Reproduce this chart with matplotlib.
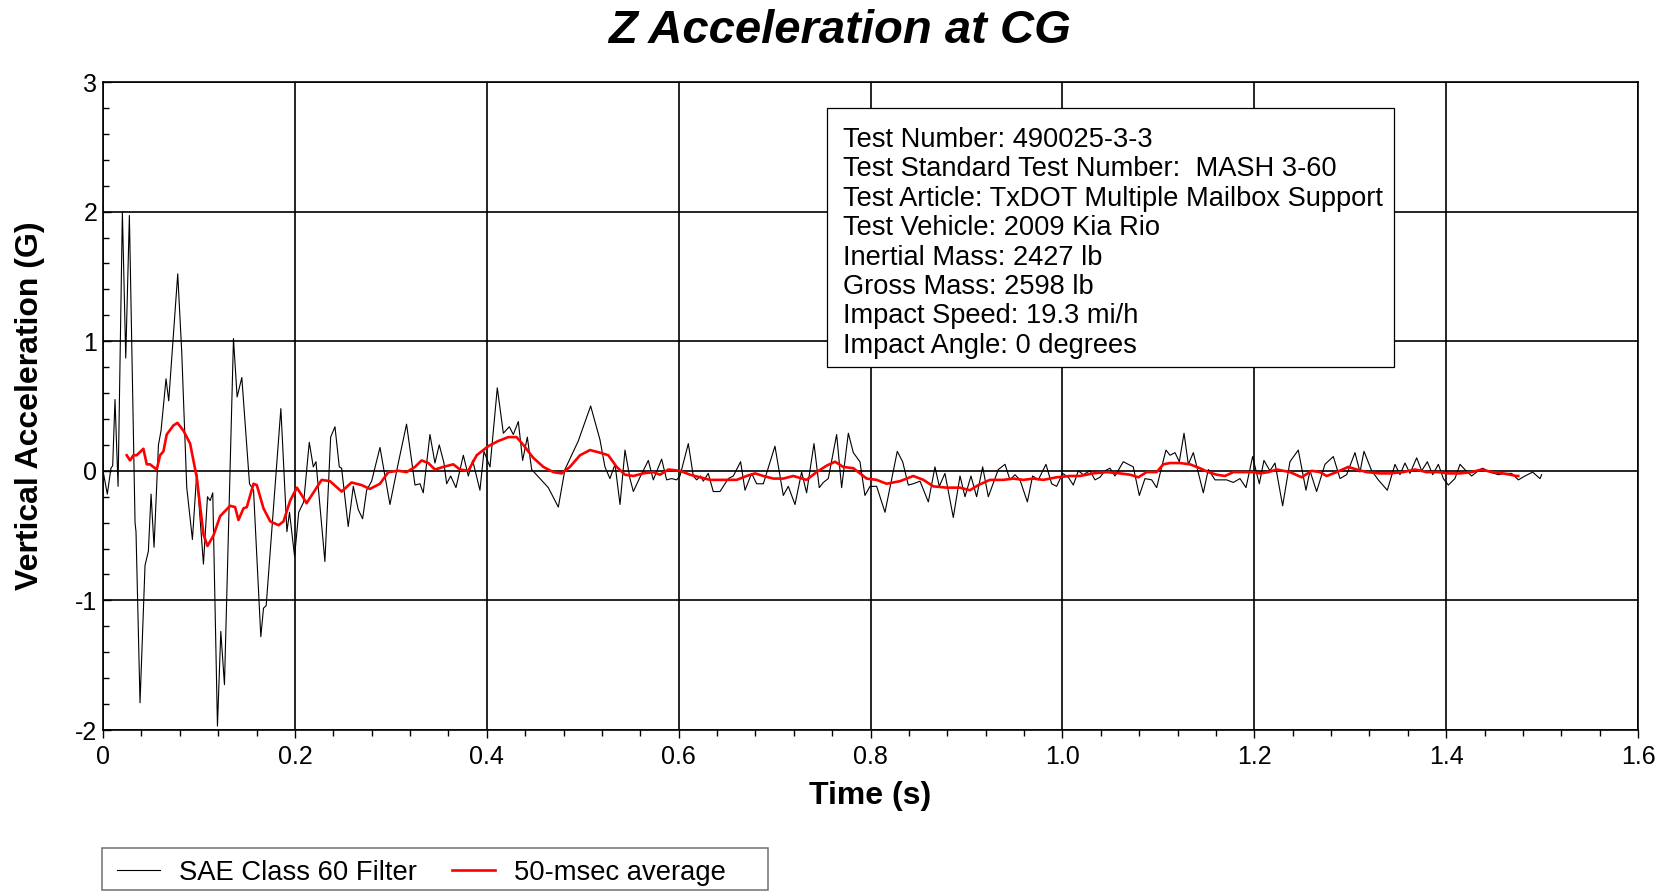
import matplotlib
matplotlib.use("Agg")
import matplotlib.pyplot as plt
from matplotlib.patches import Rectangle
from matplotlib.ticker import MultipleLocator, FuncFormatter

plt.rcParams["font.family"] = ["Liberation Sans", "DejaVu Sans"]
plt.rcParams["axes.unicode_minus"] = False

# ---- SAE Class 60 filtered vertical acceleration (G) vs time (s) ----
raw_time = [
    0.0000, 0.0045, 0.0083, 0.0101, 0.0125, 0.0157, 0.0202, 0.0237, 0.0275, 0.0334,
    0.0344, 0.0386, 0.0438, 0.0473, 0.0501, 0.0532, 0.0578, 0.0605, 0.0657, 0.0685,
    0.0779, 0.0821, 0.0873, 0.0932, 0.0977, 0.1047, 0.1089, 0.1117, 0.1144, 0.1193,
    0.1228, 0.1266, 0.1360, 0.1398, 0.1447, 0.1527, 0.1569, 0.1645, 0.1673, 0.1701,
    0.1854, 0.1917, 0.1944, 0.1997, 0.2040, 0.2092, 0.2150, 0.2192, 0.2220, 0.2313,
    0.2373, 0.2418, 0.2463, 0.2487, 0.2556, 0.2609, 0.2661, 0.2706, 0.2748, 0.2800,
    0.2887, 0.2991, 0.3078, 0.3164, 0.3252, 0.3304, 0.3338, 0.3408, 0.3460, 0.3505,
    0.3554, 0.3582, 0.3624, 0.3679, 0.3756, 0.3808, 0.3853, 0.3929, 0.3971, 0.4034,
    0.4110, 0.4173, 0.4235, 0.4277, 0.4329, 0.4374, 0.4423, 0.4468, 0.4642, 0.4746,
    0.4815, 0.4954, 0.5083, 0.5180, 0.5232, 0.5284, 0.5337, 0.5389, 0.5441, 0.5493,
    0.5528, 0.5597, 0.5684, 0.5736, 0.5823, 0.5875, 0.5927, 0.5979, 0.6014, 0.6101,
    0.6153, 0.6188, 0.6229, 0.6257, 0.6309, 0.6361, 0.6431, 0.6518, 0.6570, 0.6646,
    0.6692, 0.6761, 0.6813, 0.6883, 0.7004, 0.7091, 0.7143, 0.7213, 0.7282, 0.7334,
    0.7411, 0.7466, 0.7508, 0.7560, 0.7647, 0.7699, 0.7769, 0.7821, 0.7890, 0.7942,
    0.7995, 0.8064, 0.8151, 0.8279, 0.8335, 0.8394, 0.8446, 0.8516, 0.8603, 0.8672,
    0.8717, 0.8776, 0.8863, 0.8933, 0.8985, 0.9047, 0.9106, 0.9169, 0.9228, 0.9332,
    0.9402, 0.9454, 0.9506, 0.9558, 0.9635, 0.9690, 0.9749, 0.9829, 0.9888, 0.9940,
    1.0003, 1.0062, 1.0114, 1.0166, 1.0218, 1.0288, 1.0340, 1.0392, 1.0444, 1.0496,
    1.0548, 1.0635, 1.0687, 1.0739, 1.0802, 1.0861, 1.0931, 1.0983, 1.1035, 1.1080,
    1.1122, 1.1174, 1.1219, 1.1268, 1.1313, 1.1365, 1.1469, 1.1521, 1.1591, 1.1712,
    1.1782, 1.1851, 1.1914, 1.1983, 1.2025, 1.2053, 1.2101, 1.2164, 1.2216, 1.2296,
    1.2372, 1.2459, 1.2539, 1.2581, 1.2650, 1.2737, 1.2824, 1.2894, 1.2963, 1.3050,
    1.3102, 1.3144, 1.3224, 1.3293, 1.3387, 1.3467, 1.3519, 1.3571, 1.3623, 1.3693,
    1.3745, 1.3804, 1.3860, 1.3919, 1.3971, 1.4023, 1.4092, 1.4145, 1.4207, 1.4266,
    1.4318, 1.4381, 1.4457, 1.4544, 1.4614, 1.4683, 1.4753, 1.4822, 1.4902, 1.4978,
    1.4996,
]
raw_accel = [
    0.00, -0.18, 0.02, 0.04, 0.55, -0.12, 2.00, 0.87, 1.97, -0.40,
    -0.47, -1.79, -0.73, -0.62, -0.18, -0.59, 0.20, 0.31, 0.71, 0.54,
    1.52, 0.91, -0.13, -0.53, -0.02, -0.72, -0.20, -0.23, -0.17, -1.97,
    -1.24, -1.65, 1.02, 0.57, 0.72, -0.10, -0.15, -1.28, -1.06, -1.04,
    0.48, -0.47, -0.32, -0.66, -0.32, -0.24, 0.22, 0.03, 0.07, -0.70,
    0.26, 0.34, 0.03, 0.02, -0.43, -0.12, -0.30, -0.37, -0.15, -0.08,
    0.18, -0.26, 0.06, 0.36, -0.11, -0.10, -0.17, 0.28, 0.06, 0.20,
    0.06, -0.10, -0.04, -0.13, 0.12, -0.04, 0.08, -0.15, 0.15, 0.03,
    0.64, 0.29, 0.34, 0.28, 0.38, 0.08, 0.26, 0.01, -0.13, -0.28,
    0.01, 0.23, 0.50, 0.24, 0.03, -0.06, 0.05, -0.26, 0.16, -0.06,
    -0.16, -0.05, 0.08, -0.07, 0.09, -0.07, -0.06, -0.07, -0.04, 0.21,
    -0.04, -0.07, -0.04, -0.08, -0.02, -0.16, -0.16, -0.06, -0.04, 0.07,
    -0.15, -0.02, -0.10, -0.10, 0.19, -0.19, -0.12, -0.26, -0.01, -0.17,
    0.21, -0.13, -0.09, -0.06, 0.28, -0.13, 0.29, 0.14, 0.07, -0.19,
    -0.12, -0.12, -0.32, 0.15, 0.07, -0.11, -0.10, -0.08, -0.24, 0.03,
    -0.12, -0.02, -0.36, -0.04, -0.20, -0.04, -0.20, 0.03, -0.20, 0.01,
    0.05, -0.07, -0.03, -0.07, -0.24, -0.04, -0.07, 0.05, -0.10, -0.12,
    -0.02, -0.05, -0.11, 0.00, -0.03, 0.00, -0.07, -0.05, 0.00, 0.02,
    -0.04, 0.07, 0.05, 0.03, -0.19, -0.06, -0.07, -0.13, 0.03, 0.16,
    0.12, 0.14, 0.07, 0.29, 0.05, 0.14, -0.17, 0.01, -0.07, -0.07,
    -0.09, -0.06, -0.13, 0.11, -0.02, -0.10, 0.08, 0.00, 0.06, -0.27,
    0.07, 0.16, -0.15, 0.00, -0.16, 0.05, 0.11, -0.06, -0.03, 0.14,
    -0.01, 0.15, 0.00, -0.07, -0.15, 0.05, -0.03, 0.06, -0.02, 0.10,
    0.00, 0.07, -0.03, 0.05, -0.06, -0.11, -0.06, 0.05, 0.00, -0.04,
    -0.01, 0.02, -0.01, -0.03, -0.02, -0.02, -0.07, -0.04, -0.01, -0.06,
    -0.03,
]

# ---- 50-msec moving average (G) vs time (s) ----
avg_time = [
    0.0247, 0.0282, 0.0317, 0.0351, 0.0421, 0.0456, 0.0490, 0.0560, 0.0595, 0.0630,
    0.0664, 0.0734, 0.0776, 0.0838, 0.0908, 0.0977, 0.1047, 0.1089, 0.1151, 0.1221,
    0.1325, 0.1377, 0.1412, 0.1464, 0.1499, 0.1569, 0.1603, 0.1673, 0.1743, 0.1830,
    0.1882, 0.1951, 0.2021, 0.2090, 0.2122, 0.2192, 0.2279, 0.2366, 0.2487, 0.2591,
    0.2695, 0.2782, 0.2887, 0.2974, 0.3078, 0.3165, 0.3252, 0.3321, 0.3391, 0.3460,
    0.3547, 0.3651, 0.3721, 0.3808, 0.3895, 0.4016, 0.4120, 0.4225, 0.4311, 0.4381,
    0.4485, 0.4590, 0.4694, 0.4781, 0.4867, 0.4972, 0.5076, 0.5180, 0.5267, 0.5354,
    0.5441, 0.5528, 0.5632, 0.5736, 0.5806, 0.5893, 0.6014, 0.6118, 0.6222, 0.6327,
    0.6466, 0.6605, 0.6709, 0.6796, 0.6883, 0.6987, 0.7091, 0.7195, 0.7334, 0.7438,
    0.7543, 0.7630, 0.7716, 0.7821, 0.7908, 0.7960, 0.8064, 0.8168, 0.8307, 0.8446,
    0.8551, 0.8655, 0.8794, 0.8933, 0.9037, 0.9124, 0.9245, 0.9384, 0.9488, 0.9593,
    0.9697, 0.9801, 0.9940, 1.0079, 1.0183, 1.0322, 1.0461, 1.0600, 1.0705, 1.0792,
    1.0878, 1.0983, 1.1052, 1.1122, 1.1226, 1.1330, 1.1434, 1.1521, 1.1608, 1.1695,
    1.1782, 1.1886, 1.1990, 1.2060, 1.2147, 1.2234, 1.2372, 1.2494, 1.2598, 1.2685,
    1.2755, 1.2859, 1.2981, 1.3067, 1.3171, 1.3311, 1.3415, 1.3554, 1.3676, 1.3797,
    1.3919, 1.4023, 1.4145, 1.4266, 1.4370, 1.4475, 1.4596, 1.4735, 1.4752,
]
avg_accel = [
    0.12, 0.08, 0.12, 0.12, 0.17, 0.05, 0.05, 0.01, 0.12, 0.15,
    0.28, 0.35, 0.37, 0.31, 0.21, -0.05, -0.49, -0.58, -0.50, -0.35,
    -0.27, -0.28, -0.38, -0.29, -0.28, -0.10, -0.11, -0.29, -0.39, -0.42,
    -0.39, -0.23, -0.13, -0.21, -0.25, -0.17, -0.07, -0.08, -0.16, -0.09,
    -0.11, -0.14, -0.10, -0.01, 0.00, -0.01, 0.03, 0.08, 0.06, 0.01,
    0.03, 0.05, 0.01, 0.00, 0.12, 0.19, 0.23, 0.26, 0.26, 0.20,
    0.10, 0.03, -0.01, -0.02, 0.03, 0.12, 0.16, 0.14, 0.12, 0.03,
    -0.03, -0.04, -0.02, -0.01, -0.03, 0.01, 0.00, -0.03, -0.05, -0.07,
    -0.07, -0.07, -0.04, -0.02, -0.04, -0.06, -0.06, -0.04, -0.07, -0.01,
    0.04, 0.07, 0.03, 0.02, -0.03, -0.06, -0.07, -0.10, -0.08, -0.04,
    -0.07, -0.12, -0.13, -0.13, -0.15, -0.11, -0.07, -0.07, -0.06, -0.07,
    -0.06, -0.07, -0.05, -0.04, -0.04, -0.02, -0.01, -0.02, -0.03, -0.05,
    -0.01, -0.01, 0.05, 0.06, 0.06, 0.05, 0.02, -0.01, -0.03, -0.04,
    -0.01, -0.01, -0.01, -0.02, -0.01, 0.01, -0.01, -0.05, 0.00, -0.01,
    -0.04, -0.01, 0.03, 0.01, -0.01, -0.02, -0.02, -0.01, 0.01, -0.01,
    -0.01, -0.02, -0.02, -0.01, 0.01, -0.01, -0.02, -0.04, -0.04,
]

series_labels = ["SAE Class 60 Filter", "50-msec average"]
x_ticks = [0.0, 0.2, 0.4, 0.6, 0.8, 1.0, 1.2, 1.4, 1.6]
y_ticks = [-2, -1, 0, 1, 2, 3]
info_lines = [
    "Test Number: 490025-3-3",
    "Test Standard Test Number:  MASH 3-60",
    "Test Article: TxDOT Multiple Mailbox Support",
    "Test Vehicle: 2009 Kia Rio",
    "Inertial Mass: 2427 lb",
    "Gross Mass: 2598 lb",
    "Impact Speed: 19.3 mi/h",
    "Impact Angle: 0 degrees",
]

W, H = 1667, 892
fig = plt.figure(figsize=(W / 100, H / 100), dpi=100)
ax = fig.add_axes([103 / W, 1 - 730 / H, (1638 - 103) / W, (730 - 82) / H])

raw_line, = ax.plot(raw_time, raw_accel, color="black", lw=0.8,
                    label=series_labels[0], zorder=3)
avg_line, = ax.plot(avg_time, avg_accel, color="#ff0000", lw=1.9,
                    label=series_labels[1], zorder=4)

ax.set_xlim(x_ticks[0], x_ticks[-1])
ax.set_ylim(y_ticks[0], y_ticks[-1])
ax.set_xticks(x_ticks)
ax.set_yticks(y_ticks)
ax.xaxis.set_minor_locator(MultipleLocator(0.04))
ax.yaxis.set_minor_locator(MultipleLocator(0.2))
ax.xaxis.set_major_formatter(FuncFormatter(lambda v, p: "0" if abs(v) < 1e-9 else f"{v:.1f}"))
ax.yaxis.set_major_formatter(FuncFormatter(lambda v, p: f"{v:.0f}"))
ax.tick_params(axis="x", which="both", direction="out", labelsize=18, pad=5,
               color="black", width=1.0)
ax.tick_params(axis="y", which="both", direction="in", labelsize=18, pad=4,
               color="black", width=1.0)
ax.tick_params(which="major", length=6)
ax.tick_params(which="minor", length=4)

ax.grid(True, which="major", color="black", lw=1.2)
ax.set_axisbelow(True)
for s in ax.spines.values():
    s.set_color("black")
    s.set_linewidth(1.2)

ax.set_xlabel("Time (s)", fontsize=23, fontweight="bold")
ax.xaxis.label.set_va("baseline")
ax.xaxis.set_label_coords(0.5, -74 / 648)
ax.set_ylabel("Vertical Acceleration (G)", fontsize=23, fontweight="bold")
ax.yaxis.set_label_coords(-58 / 1535, 0.5)

fig.text(840 / W, 1 - 43 / H, "Z Acceleration at CG", fontsize=34,
         fontweight="bold", fontstyle="italic", ha="center", va="baseline")

# test information box
fig.add_artist(Rectangle((827 / W, 1 - 367 / H), (1394 - 827) / W, (367 - 108) / H,
                         transform=fig.transFigure, facecolor="white",
                         edgecolor="black", lw=0.9, zorder=5))
for i, line in enumerate(info_lines):
    fig.text(843 / W, 1 - (147 + 29.4 * i) / H, line, fontsize=19.6,
             ha="left", va="baseline", zorder=6)

# legend below the plot
fig.add_artist(Rectangle((102 / W, 1 - 890 / H), (768 - 102) / W, (890 - 848) / H,
                         transform=fig.transFigure, facecolor="white",
                         edgecolor="#707070", lw=1.1, zorder=5))
fs_px = 19.7 * 100 / 72
fig.legend(handles=[raw_line, avg_line], loc="center left",
           bbox_to_anchor=(117 / W, 1 - 873 / H), ncol=2, frameon=False,
           fontsize=19.7, handlelength=43 / fs_px, handletextpad=19 / fs_px,
           columnspacing=35 / fs_px, borderpad=0, borderaxespad=0).set_zorder(6)

fig.savefig("out.png", dpi=100)
